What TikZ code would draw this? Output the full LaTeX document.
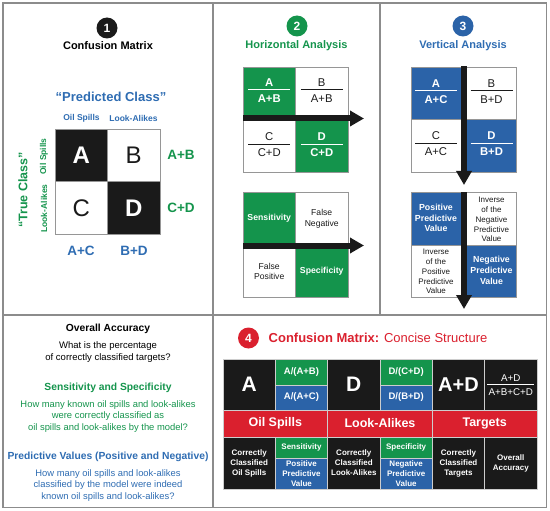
\documentclass[tikz,border=0pt]{standalone}
\usepackage{fontspec}
\setmainfont{Liberation Sans}
\usetikzlibrary{arrows.meta,calc}
\definecolor{gn}{RGB}{20,148,76}
\definecolor{bl}{RGB}{43,99,168}
\definecolor{blt}{RGB}{46,108,178}
\definecolor{rd}{RGB}{218,32,46}
\definecolor{bk}{RGB}{26,26,26}
\definecolor{fr}{RGB}{140,140,140}
\definecolor{cl}{RGB}{150,150,150}
\definecolor{tl}{RGB}{205,205,205}
\newcommand\fsz[2]{\fontsize{#1}{#2}\selectfont}
% fraction: name, x, y of numerator, text style, line colour, numerator, denominator
\newcommand\frc[7]{%
  \node[#4] (#1n) at (#2,#3) {#6};
  \node[#4] (#1d) at ($(#2,#3)+(0,16)$) {#7};
  \draw[#5, line width=0.8] ($(#2,#3)+(-21,7.3)$) -- ($(#2,#3)+(21,7.3)$);
}
\begin{document}
\begin{tikzpicture}[x=1pt,y=-1pt,
  framel/.style={draw=fr, line width=1.3},
  num/.style={circle, minimum size=21pt, inner sep=0, text=white, font=\bfseries\fsz{12}{14}},
  title/.style={inner sep=0, font=\bfseries\fsz{11}{13}},
  cell/.style={rectangle, draw=cl, line width=0.6, minimum width=52.5pt, minimum height=52.5pt, inner sep=0, align=center},
  ftw/.style={inner sep=0, text height=8pt, text depth=0pt, text=white, font=\bfseries\fsz{11.3}{13}},
  ftk/.style={inner sep=0, text height=8pt, text depth=0pt, text=bk, font=\fsz{11.3}{13}},
  bar/.style={draw=bk, line width=6pt, -{Triangle[length=14pt,width=15pt]}},
  tcell/.style={rectangle, draw=tl, line width=0.7, minimum width=52.33pt, inner sep=0, align=center, text=white},
  sm/.style={font=\bfseries\fsz{8}{10}},
]
\useasboundingbox (0,0) rectangle (550,511);
% frames
\draw[framel] (3,3) rectangle (546.5,507.5);
\draw[framel] (213,3) -- (213,507.5);
\draw[framel] (380,3) -- (380,315);
\draw[framel] (3,315) -- (546.5,315);

% ---------- Panel 1 ----------
\node[num, fill=bk] (n1) at (107,28) {1};
\node[title] (t1) at (108,46) {Confusion Matrix};
\node[inner sep=0, text=blt, font=\bfseries\fsz{13}{15}] (pc) at (111,97) {“Predicted Class”};
\node[inner sep=0, text=blt, font=\bfseries\fsz{8.5}{10}] (cos) at (81.5,118) {Oil Spills};
\node[inner sep=0, text=blt, font=\bfseries\fsz{8.5}{10}] (cla) at (133.5,118) {Look-Alikes};
\node[cell, fill=bk, text=white, font=\bfseries\fsz{24}{28}] (mA) at (81.25,155.25) {A};
\node[cell, text=bk, font=\fsz{24}{28}] (mB) at (133.75,155.25) {B};
\node[cell, text=bk, font=\fsz{24}{28}] (mC) at (81.25,207.75) {C};
\node[cell, fill=bk, text=white, font=\bfseries\fsz{24}{28}] (mD) at (133.75,207.75) {D};
\node[inner sep=0, rotate=90, text=gn, font=\bfseries\fsz{8.5}{10}] (ros) at (44,156.5) {Oil Spills};
\node[inner sep=0, rotate=90, text=gn, font=\bfseries\fsz{8.5}{10}] (rla) at (44,208.5) {Look-Alikes};
\node[inner sep=0, rotate=90, text=gn, font=\bfseries\fsz{12.5}{15}] (tc) at (23,190) {“True Class”};
\node[inner sep=0, text=gn, font=\bfseries\fsz{13.5}{16}] (sAB) at (181,155) {A+B};
\node[inner sep=0, text=gn, font=\bfseries\fsz{13.5}{16}] (sCD) at (181,208) {C+D};
\node[inner sep=0, text=blt, font=\bfseries\fsz{13.5}{16}] (sAC) at (81,251) {A+C};
\node[inner sep=0, text=blt, font=\bfseries\fsz{13.5}{16}] (sBD) at (134,251) {B+D};

% ---------- Panel 2 ----------
\node[num, fill=gn] (n2) at (297,26) {2};
\node[title, text=gn] (t2) at (296.5,46) {Horizontal Analysis};
\node[cell, fill=gn] (hA) at (269.25,93.25) {};
\node[cell] (hB) at (321.75,93.25) {};
\node[cell] (hC) at (269.25,145.75) {};
\node[cell, fill=gn] (hD) at (321.75,145.75) {};
\coordinate (h1s) at (243,118.5);
\coordinate (h1e) at (364,118.5);
\draw[bar] (h1s) -- (h1e);
\frc{fhA}{269.25}{82.5}{ftw}{white}{A}{A+B}
\frc{fhB}{321.75}{82.5}{ftk}{bk}{B}{A+B}
\frc{fhC}{269.25}{137}{ftk}{bk}{C}{C+D}
\frc{fhD}{321.75}{137}{ftw}{white}{D}{C+D}
\node[cell, fill=gn, text=white, font=\bfseries\fsz{8.7}{10.3}] (hS) at (269.25,218.75) {Sensitivity};
\node[cell, text=bk, font=\fsz{8.6}{10.3}] (hFN) at (321.75,218.75) {False\\Negative};
\node[cell, text=bk, font=\fsz{8.6}{10.3}] (hFP) at (269.25,271.25) {False\\Positive};
\node[cell, fill=gn, text=white, font=\bfseries\fsz{8.7}{10.3}] (hSp) at (321.75,271.25) {Specificity};
\coordinate (h2s) at (243,245.5);
\coordinate (h2e) at (364,245.5);
\draw[bar] (h2s) -- (h2e);

% ---------- Panel 3 ----------
\node[num, fill=bl] (n3) at (463,26) {3};
\node[title, text=blt] (t3) at (463,46) {Vertical Analysis};
\node[cell, fill=bl] (vA) at (437.25,93.25) {};
\node[cell] (vB) at (489.75,93.25) {};
\node[cell] (vC) at (437.25,145.75) {};
\node[cell, fill=bl] (vD) at (489.75,145.75) {};
\coordinate (v1s) at (464,66.5);
\coordinate (v1e) at (464,185);
\draw[bar] (v1s) -- (v1e);
\frc{fvA}{436}{83.5}{ftw}{white}{A}{A+C}
\frc{fvB}{491.5}{83.5}{ftk}{bk}{B}{B+D}
\frc{fvC}{436}{136}{ftk}{bk}{C}{A+C}
\frc{fvD}{491.5}{136}{ftw}{white}{D}{B+D}
\node[cell, fill=bl] (vP) at (437.25,218.75) {};
\node[cell] (vIN) at (489.75,218.75) {};
\node[cell] (vIP) at (437.25,271.25) {};
\node[cell, fill=bl] (vN) at (489.75,271.25) {};
\coordinate (v2s) at (464,192.5);
\coordinate (v2e) at (464,309);
\draw[bar] (v2s) -- (v2e);
\node[inner sep=0, align=center, text=white, font=\bfseries\fsz{8.8}{10.8}] (tP) at (436,218) {Positive\\Predictive\\Value};
\node[inner sep=0, align=center, text=bk, font=\fsz{8}{9.8}] (tIN) at (491.5,219.5) {Inverse\\of the\\Negative\\Predictive\\Value};
\node[inner sep=0, align=center, text=bk, font=\fsz{8}{9.8}] (tIP) at (436,271.5) {Inverse\\of the\\Positive\\Predictive\\Value};
\node[inner sep=0, align=center, text=white, font=\bfseries\fsz{8.8}{10.8}] (tN) at (491.5,270.5) {Negative\\Predictive\\Value};

% ---------- Bottom-left panel ----------
\node[inner sep=0, font=\bfseries\fsz{10.3}{12}] (oa) at (108,329) {Overall Accuracy};
\node[inner sep=0, align=center, font=\fsz{9.5}{11.3}] (oaq) at (108,352) {What is the percentage\\of correctly classified targets?};
\node[inner sep=0, text=gn, font=\bfseries\fsz{10.3}{12}] (ss) at (108,388) {Sensitivity and Specificity};
\node[inner sep=0, align=center, text=gn, font=\fsz{9.4}{11.5}] (ssq) at (108,416.5) {How many known oil spills and look-alikes\\were correctly classified as\\oil spills and look-alikes by the model?};
\node[inner sep=0, text=blt, font=\bfseries\fsz{10.3}{12}] (pv) at (108,457) {Predictive Values (Positive and Negative)};
\node[inner sep=0, align=center, text=blt, font=\fsz{9.4}{11.5}] (pvq) at (108,485.5) {How many oil spills and look-alikes\\classified by the model were indeed\\known oil spills and look-alikes?};

% ---------- Bottom-right panel ----------
\node[num, fill=rd] (n4) at (248.5,338) {4};
\node[inner sep=0, anchor=west, text=rd, font=\fsz{13}{15}] (t4) at (268.5,338) {\textbf{Confusion Matrix:} Concise Structure};
% top block
\node[tcell, fill=bk, minimum height=51pt, font=\bfseries\fsz{21}{24}] (cA) at (249.15,384.5) {A};
\node[tcell, fill=gn, minimum height=26pt, font=\bfseries\fsz{9.5}{11}] (cAB) at (301.45,372) {A/(A+B)};
\node[tcell, fill=bl, minimum height=25pt, font=\bfseries\fsz{9.5}{11}] (cAC) at (301.45,397.5) {A/(A+C)};
\node[tcell, fill=bk, minimum height=51pt, font=\bfseries\fsz{21}{24}] (cD) at (353.8,384.5) {D};
\node[tcell, fill=gn, minimum height=26pt, font=\bfseries\fsz{9.5}{11}] (cCD) at (406.15,372) {D/(C+D)};
\node[tcell, fill=bl, minimum height=25pt, font=\bfseries\fsz{9.5}{11}] (cBD) at (406.15,397.5) {D/(B+D)};
\node[tcell, fill=bk, minimum height=51pt, font=\bfseries\fsz{20}{24}] (cAD) at (458.45,384.5) {A+D};
\node[tcell, fill=bk, minimum height=51pt] (cOA) at (510.8,384.5) {};
\node[inner sep=0, text height=7pt, text depth=0pt, text=white, font=\fsz{9.8}{11}] (cOAn) at (510.8,378) {A+D};
\node[inner sep=0, text height=7pt, text depth=0pt, text=white, font=\fsz{9.8}{11}] (cOAd) at (510.8,391.5) {A+B+C+D};
\draw[white, line width=0.7] ($(cOA)+(-23.5,0)$) -- ($(cOA)+(23.5,0)$);
% red band
\node[tcell, fill=rd, minimum width=104.67pt, minimum height=27pt, font=\bfseries\fsz{12.5}{15}] (rOS) at (275.3,423.5) {Oil Spills};
\node[tcell, fill=rd, minimum width=104.67pt, minimum height=27pt, font=\bfseries\fsz{12.5}{15}] (rLA) at (380,423.5) {Look-Alikes};
\node[tcell, fill=rd, minimum width=104.67pt, minimum height=27pt, font=\bfseries\fsz{12.5}{15}] (rT) at (484.65,423.5) {Targets};
% bottom block
\node[tcell, fill=bk, minimum height=52pt, sm] (bOS) at (249.15,463) {Correctly\\Classified\\Oil Spills};
\node[tcell, fill=gn, minimum height=21pt, sm] (bSe) at (301.45,447.5) {Sensitivity};
\node[tcell, fill=bl, minimum height=31pt, sm] (bPP) at (301.45,473.5) {Positive\\Predictive\\Value};
\node[tcell, fill=bk, minimum height=52pt, sm] (bLA) at (353.8,463) {Correctly\\Classified\\Look-Alikes};
\node[tcell, fill=gn, minimum height=21pt, sm] (bSp) at (406.15,447.5) {Specificity};
\node[tcell, fill=bl, minimum height=31pt, sm] (bNP) at (406.15,473.5) {Negative\\Predictive\\Value};
\node[tcell, fill=bk, minimum height=52pt, sm] (bT) at (458.45,463) {Correctly\\Classified\\Targets};
\node[tcell, fill=bk, minimum height=52pt, sm] (bOA) at (510.8,463) {Overall\\Accuracy};
\end{tikzpicture}
\end{document}
